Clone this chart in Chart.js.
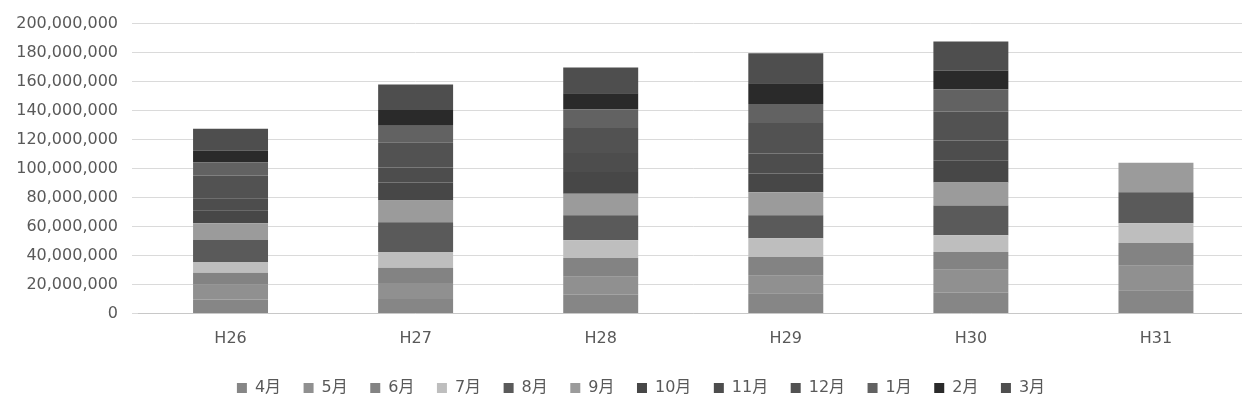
<!DOCTYPE html>
<html lang="ja">
<head>
<meta charset="utf-8">
<script src="https://cdn.jsdelivr.net/npm/chart.js@4/dist/chart.umd.min.js"></script>
<style>
  html, body { margin: 0; padding: 0; background: #ffffff; overflow: hidden; }
  #wrap { width: 1242px; height: 417px; overflow: hidden; position: relative; }
  #box { position: absolute; left: 0; top: 0; width: 1250px; height: 417px; }
</style>
</head>
<body>
<div id="wrap"><div id="box"><canvas id="c"></canvas></div></div>
<script>
// Fiscal years on the category axis
const years = ['H26', 'H27', 'H28', 'H29', 'H30', 'H31'];

// Monthly amounts (yen) per fiscal year, April through March
const apr = [9600000, 10000000, 13000000, 14000000, 14400000, 16000000];
const may = [10300000, 11000000, 12300000, 12000000, 15700000, 17000000];
const jun = [8200000, 10500000, 13000000, 13000000, 12300000, 15600000];
const jul = [7500000, 11000000, 12300000, 13000000, 11600000, 13700000];
const aug = [15100000, 20500000, 17100000, 15800000, 20500000, 21300000];
const sep = [11600000, 15000000, 15000000, 15800000, 15800000, 20400000];
const oct = [8900000, 12400000, 15000000, 13000000, 15000000, null];
const nov = [8300000, 10300000, 13000000, 13700000, 14000000, null];
const dec = [15700000, 17100000, 17200000, 21200000, 20000000, null];
const jan = [8900000, 11700000, 13000000, 13000000, 15400000, null];
const feb = [8200000, 10900000, 11000000, 14400000, 13000000, null];
const mar = [15100000, 17600000, 17800000, 20600000, 19900000, null];

const monthNames = ['4月', '5月', '6月', '7月', '8月', '9月', '10月', '11月', '12月', '1月', '2月', '3月'];
const monthValues = [apr, may, jun, jul, aug, sep, oct, nov, dec, jan, feb, mar];

// Value axis ticks
const yMin = 0, yMax = 200000000, yStep = 20000000;

// Grey shades for each month
const shades = ['#868686', '#909090', '#838383', '#bebebe', '#5a5a5a', '#9b9b9b',
                '#474747', '#4d4d4d', '#525252', '#626262', '#2a2a2a', '#4e4e4e'];

const datasets = monthNames.map((name, i) => ({
  label: name,
  data: monthValues[i],
  backgroundColor: shades[i],
  borderWidth: 0,
  barPercentage: 0.405,
  categoryPercentage: 1.0
}));

const FONT = "'DejaVu Sans', 'Noto Sans CJK JP', sans-serif";
const TEXT = '#595959';

// Nudge the legend row so it sits centred under the whole figure
const legendShift = {
  id: 'legendShift',
  afterLayout(chart) {
    const lg = chart.legend;
    if (lg) { lg.left += 16.75; lg.right += 16.75; }
  }
};

new Chart(document.getElementById('c'), {
  type: 'bar',
  data: { labels: years, datasets },
  plugins: [legendShift],
  options: {
    responsive: true,
    maintainAspectRatio: false,
    animation: false,
    layout: { padding: { top: 22, left: 0, right: 1.5, bottom: 11 } },
    plugins: {
      tooltip: { enabled: false },
      legend: {
        position: 'bottom',
        labels: {
          boxWidth: 10,
          boxHeight: 10,
          padding: 22.5,
          color: TEXT,
          font: { family: FONT, size: 16 }
        }
      }
    },
    scales: {
      x: {
        stacked: true,
        afterFit: s => { s.height = 44; },
        grid: { display: false, drawTicks: false },
        border: { display: true, color: '#c8c8c8', width: 1 },
        ticks: { color: TEXT, padding: 16, font: { family: FONT, size: 16 } }
      },
      y: {
        stacked: true,
        min: yMin,
        max: yMax,
        afterFit: s => { s.width = 138; },
        grid: { color: '#dadada', tickLength: 6, tickColor: '#dadada' },
        border: { display: false },
        ticks: {
          stepSize: yStep,
          color: TEXT,
          padding: 14,
          font: { family: FONT, size: 16 },
          callback: v => v.toLocaleString('en-US')
        }
      }
    }
  }
});
</script>
</body>
</html>
